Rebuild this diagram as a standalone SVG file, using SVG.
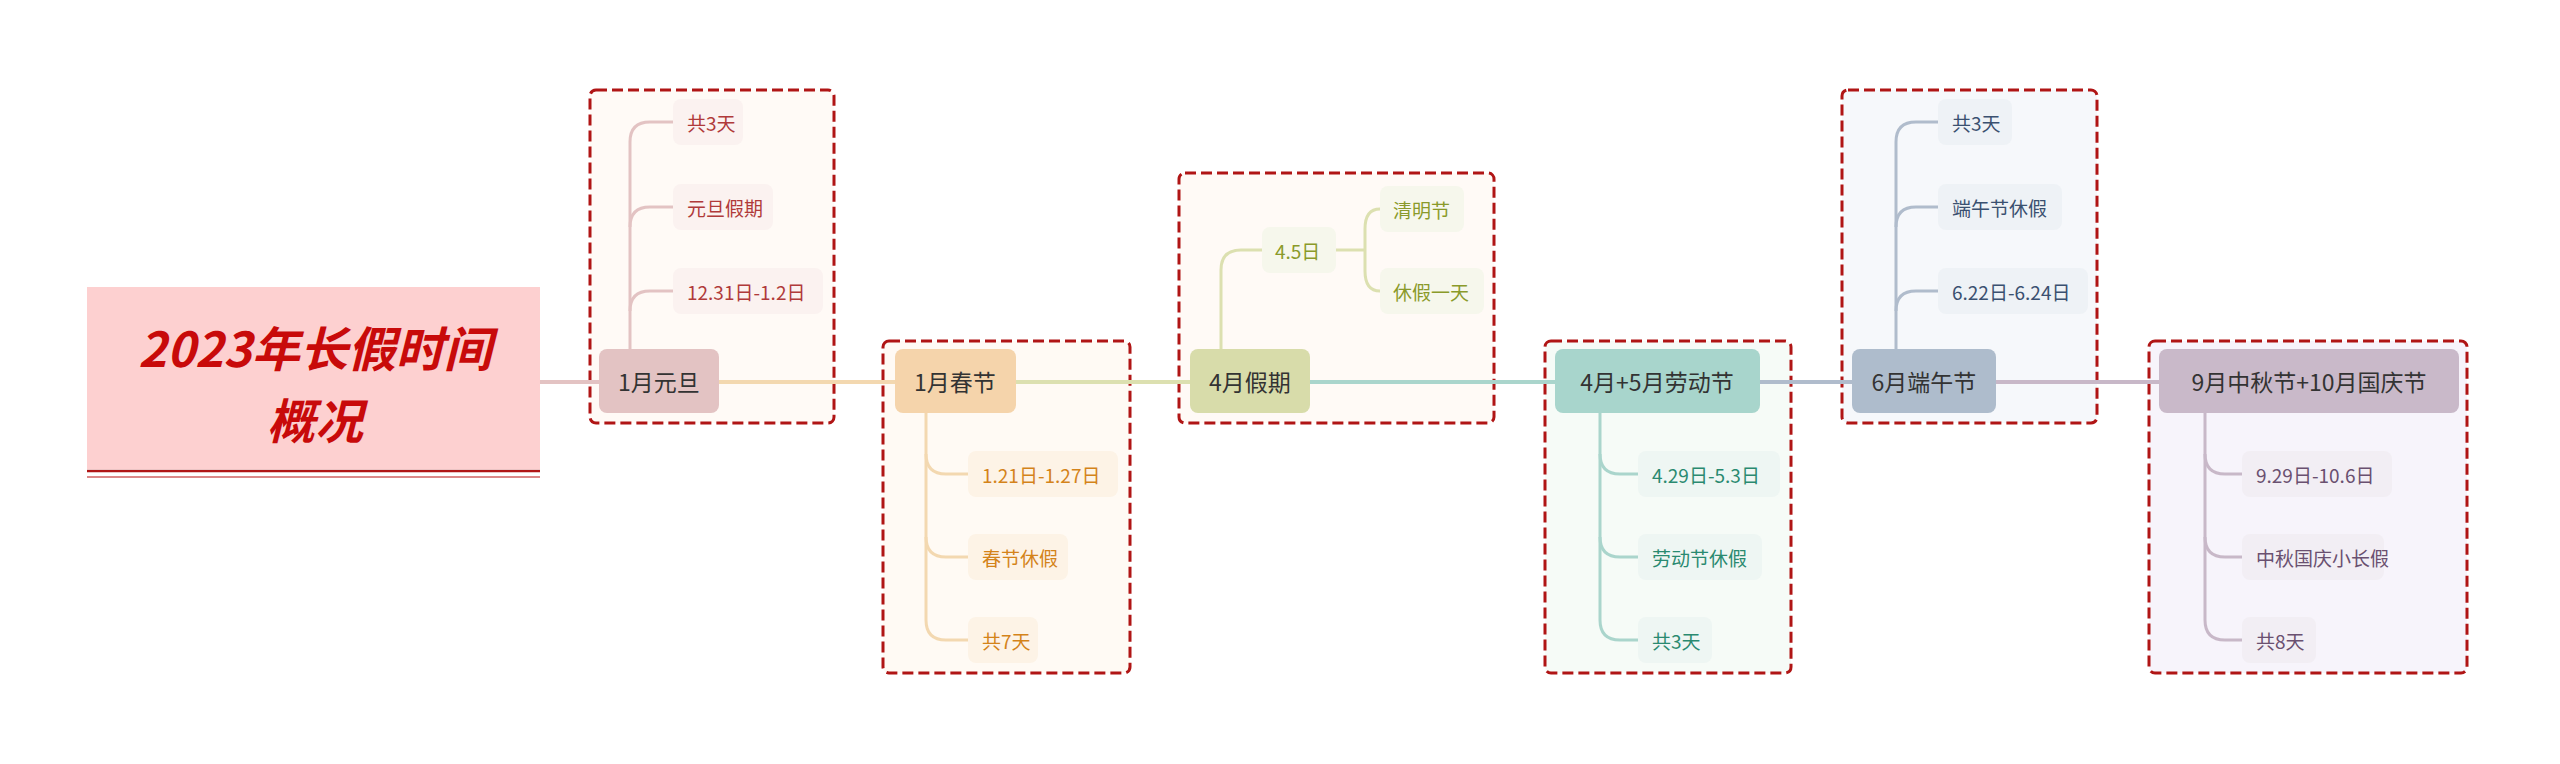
<svg xmlns="http://www.w3.org/2000/svg" width="2560" height="764" viewBox="0 0 2560 764">
<style>
text{font-family:"Noto Sans CJK SC","Noto Sans",sans-serif}
.n{font-size:23px;fill:#333;text-anchor:middle;dominant-baseline:central}
.c{font-size:19px;dominant-baseline:central}
.b{fill-opacity:1;stroke:#b01515;stroke-width:3;stroke-dasharray:11 5}
.l{fill:none;stroke-width:4}
.s{fill:none;stroke-width:3}
</style>
<rect width="2560" height="764" fill="#fff"/>
<g id="boundaries">
<rect class="b" x="590" y="90" width="244" height="333" rx="6" fill="#fffaf6"/>
<rect class="b" x="883" y="341" width="247" height="332" rx="6" fill="#fffaf4"/>
<rect class="b" x="1179" y="173" width="315" height="250" rx="6" fill="#fffaf6"/>
<rect class="b" x="1545" y="341" width="246" height="332" rx="6" fill="#f6fbf7"/>
<rect class="b" x="1842" y="90" width="255" height="333" rx="6" fill="#f6f8fb"/>
<rect class="b" x="2149" y="341" width="318" height="332" rx="6" fill="#f7f4fb"/>
</g>
<g id="connectors">
<path class="l" stroke="#e3c3c3" d="M540 382H599"/>
<path class="l" stroke="#f3d8b0" d="M719 382H895"/>
<path class="l" stroke="#dce0b0" d="M1016 382H1190"/>
<path class="l" stroke="#aad5cc" d="M1310 382H1555"/>
<path class="l" stroke="#b0bccc" d="M1760 382H1852"/>
<path class="l" stroke="#c8b8c8" d="M1996 382H2159"/>
<g stroke="#e3c3c3" class="s"><path d="M630 349V142Q630 122 650 122H673"/><path d="M630 227Q630 207 650 207H673"/><path d="M630 311Q630 291 650 291H673"/></g>
<g stroke="#f3d8b0" class="s"><path d="M926 413V620Q926 640 946 640H968"/><path d="M926 537Q926 557 946 557H968"/><path d="M926 454Q926 474 946 474H968"/></g>
<g stroke="#dce0b0" class="s"><path d="M1221 349V270Q1221 250 1241 250H1262"/><path d="M1336 250H1365"/><path d="M1365 250V229Q1365 209 1380 209"/><path d="M1365 250V271Q1365 291 1380 291"/></g>
<g stroke="#aad5cc" class="s"><path d="M1600 413V620Q1600 640 1620 640H1638"/><path d="M1600 537Q1600 557 1620 557H1638"/><path d="M1600 454Q1600 474 1620 474H1638"/></g>
<g stroke="#b0bccc" class="s"><path d="M1896 349V142Q1896 122 1916 122H1938"/><path d="M1896 227Q1896 207 1916 207H1938"/><path d="M1896 311Q1896 291 1916 291H1938"/></g>
<g stroke="#c8b8c8" class="s"><path d="M2205 413V620Q2205 640 2225 640H2242"/><path d="M2205 537Q2205 557 2225 557H2242"/><path d="M2205 454Q2205 474 2225 474H2242"/></g>
</g>
<g id="root">
<rect x="87" y="287" width="453" height="182" fill="#fdd0d0"/>
<line x1="87" y1="471" x2="540" y2="471" stroke="#b01515" stroke-width="2.5"/>
<line x1="87" y1="477" x2="540" y2="477" stroke="#d06060" stroke-width="1.5"/>
<text x="315" y="346" font-size="48" font-weight="bold" font-style="italic" fill="#c80a0a" text-anchor="middle" dominant-baseline="central">2023年长假时间</text>
<text x="315" y="418" font-size="48" font-weight="bold" font-style="italic" fill="#c80a0a" text-anchor="middle" dominant-baseline="central">概况</text>
</g>
<g id="n1"><rect x="599" y="349" width="120" height="64" rx="8" fill="#e3c3c3"/><text class="n" x="659" y="381">1月元旦</text></g>
<g id="n1c" fill="#b03a3a">
<rect x="673" y="99" width="70" height="46" rx="8" fill="#fbf2f0"/><text class="c" x="687" y="122">共3天</text>
<rect x="673" y="184" width="100" height="46" rx="8" fill="#fbf2f0"/><text class="c" x="687" y="207">元旦假期</text>
<rect x="673" y="268" width="150" height="46" rx="8" fill="#fbf2f0"/><text class="c" x="687" y="291">12.31日-1.2日</text>
</g>
<g id="n2"><rect x="895" y="349" width="121" height="64" rx="8" fill="#f5d4ab"/><text class="n" x="955" y="381">1月春节</text></g>
<g id="n2c" fill="#d4831a">
<rect x="968" y="451" width="150" height="46" rx="8" fill="#fdf3e6"/><text class="c" x="982" y="474">1.21日-1.27日</text>
<rect x="968" y="534" width="100" height="46" rx="8" fill="#fdf3e6"/><text class="c" x="982" y="557">春节休假</text>
<rect x="968" y="617" width="70" height="46" rx="8" fill="#fdf3e6"/><text class="c" x="982" y="640">共7天</text>
</g>
<g id="n3"><rect x="1190" y="349" width="120" height="64" rx="8" fill="#d8dcaa"/><text class="n" x="1250" y="381">4月假期</text></g>
<g id="n3c" fill="#8a9a2a">
<rect x="1262" y="227" width="74" height="46" rx="8" fill="#f6f7ec"/><text class="c" x="1275" y="250">4.5日</text>
<rect x="1380" y="186" width="84" height="46" rx="8" fill="#f6f7ec"/><text class="c" x="1393" y="209">清明节</text>
<rect x="1380" y="268" width="104" height="46" rx="8" fill="#f6f7ec"/><text class="c" x="1393" y="291">休假一天</text>
</g>
<g id="n4"><rect x="1555" y="349" width="205" height="64" rx="8" fill="#a8d5cc"/><text class="n" x="1657" y="381">4月+5月劳动节</text></g>
<g id="n4c" fill="#2a8a70">
<rect x="1638" y="451" width="142" height="46" rx="8" fill="#eef6f3"/><text class="c" x="1652" y="474">4.29日-5.3日</text>
<rect x="1638" y="534" width="124" height="46" rx="8" fill="#eef6f3"/><text class="c" x="1652" y="557">劳动节休假</text>
<rect x="1638" y="617" width="74" height="46" rx="8" fill="#eef6f3"/><text class="c" x="1652" y="640">共3天</text>
</g>
<g id="n5"><rect x="1852" y="349" width="144" height="64" rx="8" fill="#aebccc"/><text class="n" x="1924" y="381">6月端午节</text></g>
<g id="n5c" fill="#3a5070">
<rect x="1938" y="99" width="74" height="46" rx="8" fill="#eef2f6"/><text class="c" x="1952" y="122">共3天</text>
<rect x="1938" y="184" width="124" height="46" rx="8" fill="#eef2f6"/><text class="c" x="1952" y="207">端午节休假</text>
<rect x="1938" y="268" width="150" height="46" rx="8" fill="#eef2f6"/><text class="c" x="1952" y="291">6.22日-6.24日</text>
</g>
<g id="n6"><rect x="2159" y="349" width="300" height="64" rx="8" fill="#c9b9c9"/><text class="n" x="2309" y="381">9月中秋节+10月国庆节</text></g>
<g id="n6c" fill="#6a5070">
<rect x="2242" y="451" width="150" height="46" rx="8" fill="#f2eef4"/><text class="c" x="2256" y="474">9.29日-10.6日</text>
<rect x="2242" y="534" width="142" height="46" rx="8" fill="#f2eef4"/><text class="c" x="2256" y="557">中秋国庆小长假</text>
<rect x="2242" y="617" width="74" height="46" rx="8" fill="#f2eef4"/><text class="c" x="2256" y="640">共8天</text>
</g>
</svg>
